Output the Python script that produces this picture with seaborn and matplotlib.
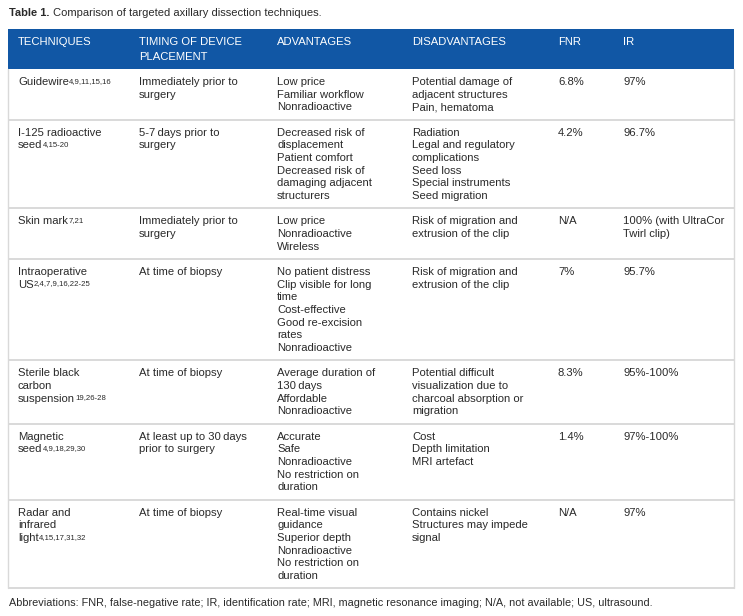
import matplotlib.pyplot as plt
from matplotlib.patches import Rectangle
import seaborn as sns

# table content
headers = ['TECHNIQUES', 'TIMING OF DEVICE\nPLACEMENT', 'ADVANTAGES',
           'DISADVANTAGES', 'FNR', 'IR']
techniques = ['Guidewire', 'I-125 radioactive\nseed', 'Skin mark',
              'Intraoperative\nUS', 'Sterile black\ncarbon\nsuspension',
              'Magnetic\nseed', 'Radar and\ninfrared\nlight']
references = ['4,9,11,15,16', '4,15-20', '7,21', '2,4,7,9,16,22-25',
              '19,26-28', '4,9,18,29,30', '4,15,17,31,32']
timing = ['Immediately prior to\nsurgery', '5-7\u2009days prior to\nsurgery',
          'Immediately prior to\nsurgery', 'At time of biopsy',
          'At time of biopsy', 'At least up to 30\u2009days\nprior to surgery',
          'At time of biopsy']
advantages = [
    'Low price\nFamiliar workflow\nNonradioactive',
    'Decreased risk of\ndisplacement\nPatient comfort\nDecreased risk of\n'
    'damaging adjacent\nstructurers',
    'Low price\nNonradioactive\nWireless',
    'No patient distress\nClip visible for long\ntime\nCost-effective\n'
    'Good re-excision\nrates\nNonradioactive',
    'Average duration of\n130\u2009days\nAffordable\nNonradioactive',
    'Accurate\nSafe\nNonradioactive\nNo restriction on\nduration',
    'Real-time visual\nguidance\nSuperior depth\nNonradioactive\n'
    'No restriction on\nduration',
]
disadvantages = [
    'Potential damage of\nadjacent structures\nPain, hematoma',
    'Radiation\nLegal and regulatory\ncomplications\nSeed loss\n'
    'Special instruments\nSeed migration',
    'Risk of migration and\nextrusion of the clip',
    'Risk of migration and\nextrusion of the clip',
    'Potential difficult\nvisualization due to\ncharcoal absorption or\nmigration',
    'Cost\nDepth limitation\nMRI artefact',
    'Contains nickel\nStructures may impede\nsignal',
]
fnr = ['6.8%', '4.2%', 'N/A', '7%', '8.3%', '1.4%', 'N/A']
ir = ['97%', '96.7%', '100% (with UltraCor\nTwirl clip)', '95.7%',
      '95%-100%', '97%-100%', '97%']

title_bold = 'Table 1.'
title_text = 'Comparison of targeted axillary dissection techniques.'
footnote = ('Abbreviations: FNR, false-negative rate; IR, identification rate; '
            'MRI, magnetic resonance imaging; N/A, not available; US, ultrasound.')

sns.set_style('white')
plt.rcParams['font.family'] = ['Liberation Sans', 'DejaVu Sans']

W, H = 743, 616
fig = plt.figure(figsize=(W / 100, H / 100), dpi=100)
ax = fig.add_axes([0, 0, 1, 1])
ax.set_xlim(0, W)
ax.set_ylim(H, 0)
ax.axis('off')

text_col = '#2a2a2a'
blue = '#1157a5'
grid = '#d9d9d9'
fs = 8.1
line_h = 12.7
col_x = [18, 139, 277, 412, 558, 623]
left, right = 8, 734
head_top, head_bot = 29, 69

# title
t = ax.text(9, 13, title_bold, fontsize=8.0, fontweight='bold', color=text_col,
            va='center', ha='left')
ax.annotate(title_text, xy=(1, 0.5), xycoords=t, xytext=(2.5, 0),
            textcoords='offset points', fontsize=8.0, color=text_col,
            va='center', ha='left')

# header band
ax.add_patch(Rectangle((left, head_top), right - left, head_bot - head_top,
                       color=blue, lw=0))
for x, h in zip(col_x, headers):
    for i, line in enumerate(h.split('\n')):
        ax.text(x, head_top + 13 + i * 15, line, fontsize=fs, color='white',
                va='center', ha='left')

# body rows
y = head_bot
cells = list(zip(techniques, references, timing, advantages, disadvantages, fnr, ir))
for tech, ref, tim, adv, dis, f, r in cells:
    cols = [tech, tim, adv, dis, f, r]
    n = max(c.count('\n') + 1 for c in cols)
    for ci, (x, c) in enumerate(zip(col_x, cols)):
        lines = c.split('\n')
        for i, line in enumerate(lines):
            art = ax.text(x, y + 13 + i * line_h, line, fontsize=fs,
                          color=text_col, va='center', ha='left')
            if ci == 0 and i == len(lines) - 1:
                ax.annotate(ref, xy=(1, 0.93), xycoords=art, xytext=(0.2, 0),
                            textcoords='offset points', fontsize=5.6,
                            color=text_col, va='top', ha='left')
    row_h = n * line_h + 12.5
    y += row_h
    ax.plot([left, right], [y, y], color=grid, lw=1.4, solid_capstyle='butt')

ax.plot([left, left], [head_bot, y], color=grid, lw=1.0)
ax.plot([right, right], [head_bot, y], color=grid, lw=1.0)

# footnote
ax.text(9, 603, footnote, fontsize=7.8, color=text_col, va='center', ha='left')

fig.savefig('out.png', dpi=100)
